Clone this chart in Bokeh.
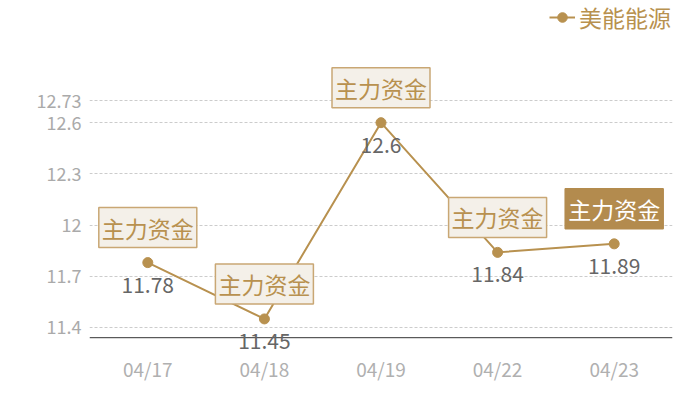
from bokeh.plotting import figure
from bokeh.models import (ColumnDataSource, FactorRange, Range1d, FixedTicker,
                          Legend, LegendItem, LabelSet, Label, Span)
from bokeh.core.properties import value
from bokeh.embed import file_html
from bokeh.resources import INLINE

# ---- data ----
dates = ["04/17", "04/18", "04/19", "04/22", "04/23"]
prices = [11.78, 11.45, 12.6, 11.84, 11.89]
tags = ["主力资金", "主力资金", "主力资金", "主力资金", "主力资金"]
y_ticks = [11.4, 11.7, 12, 12.3, 12.6, 12.73]
axis_base = 11.34
series_name = "美能能源"
highlight = "04/23"

FONT = "Noto Sans CJK SC"
GOLD = "#b8914f"

# frame spans the full height so that labels/legend above the data are not clipped
p = figure(width=684, height=384, x_range=FactorRange(*dates),
           y_range=Range1d(11.265, 13.316), output_backend="svg",
           toolbar_location=None, min_border_left=89, min_border_right=12,
           min_border_top=0, min_border_bottom=0)
p.outline_line_color = None
p.background_fill_color = "white"

# grid
p.xgrid.grid_line_color = None
p.ygrid.ticker = FixedTicker(ticks=y_ticks)
p.ygrid.grid_line_color = "#cccccc"
p.ygrid.grid_line_dash = "3 2"
p.ygrid.grid_line_width = 1

# axes
p.yaxis.ticker = FixedTicker(ticks=y_ticks)
p.yaxis.axis_line_color = None
p.yaxis.major_tick_line_color = None
p.yaxis.minor_tick_line_color = None
p.yaxis.major_tick_out = 0
p.yaxis.major_label_text_color = "#aaaaaa"
p.yaxis.major_label_text_font = FONT
p.yaxis.major_label_text_font_size = "18px"
p.yaxis.major_label_standoff = 8

p.xaxis.axis_line_color = None
p.xaxis.major_tick_line_color = None
p.xaxis.minor_tick_line_color = None
p.xaxis.major_tick_out = 0
p.xaxis.major_tick_in = 0
p.xaxis.major_label_text_color = "#b0b0b0"
p.xaxis.major_label_text_font = FONT
p.xaxis.major_label_text_font_size = "19px"
p.xaxis.major_label_standoff = 4

# baseline of the category axis
p.add_layout(Span(location=axis_base, dimension="width",
                  line_color="#333333", line_width=1))

src = ColumnDataSource(dict(
    x=dates, y=prices, tag=tags,
    val=[f"{v:g}" for v in prices],
))

ln = p.line("x", "y", source=src, line_color=GOLD, line_width=2)
sc = p.scatter("x", "y", source=src, size=10, fill_color=GOLD, line_color=GOLD)

# value labels under points
vals = LabelSet(x="x", y="y", text="val", source=src, y_offset=-22,
                text_align="center", text_baseline="middle",
                text_color="#666666", text_font=value(FONT),
                text_font_size="21px")
p.add_layout(vals)

# tag boxes above points (categorical factor i sits at synthetic x = i + 0.5)
for i, (d, v, t) in enumerate(zip(dates, prices, tags)):
    hi = d == highlight
    p.add_layout(Label(
        x=i + 0.5, y=v, text=t, y_offset=35,
        text_align="center", text_baseline="middle",
        text_color="#ffffff" if hi else GOLD,
        text_font=FONT, text_font_size="23px",
        background_fill_color="#b38b4e" if hi else "#f4f0e9",
        border_line_color="#b38b4e" if hi else "#c9a774",
        border_line_width=1.5, padding=3))

legend = Legend(items=[LegendItem(label=series_name, renderers=[ln, sc])],
                location=(460, 316), orientation="horizontal",
                border_line_color=None, background_fill_alpha=0,
                padding=0, margin=0, glyph_width=26, glyph_height=24,
                label_height=24, label_standoff=4,
                label_text_font=FONT, label_text_font_size="23px",
                label_text_color=GOLD)
p.add_layout(legend, "center")

open("out.html", "w").write(file_html(p, INLINE))
